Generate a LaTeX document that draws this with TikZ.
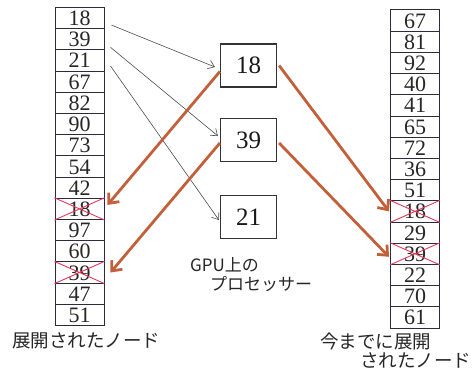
\documentclass[tikz,border=0pt]{standalone}
\usepackage{fontspec}
\setmainfont{Liberation Serif}
\newfontfamily\cjk{Noto Sans CJK JP}
\usetikzlibrary{arrows.meta}
\definecolor{cellc}{HTML}{2B2B3C}
\definecolor{orangec}{HTML}{C2603C}
\definecolor{crossc}{HTML}{E8385A}
\begin{document}
\begin{tikzpicture}[x=1pt,y=-1pt,
 cell/.style={draw=cellc,line width=1pt,minimum width=49pt,minimum height=21.2pt,inner sep=0pt,text height=15pt,text depth=0pt,font=\fontsize{22}{22}\selectfont,text=black!85},
 proc/.style={draw=black!80,line width=1.2pt,minimum width=56pt,minimum height=43pt,inner sep=0pt,text height=16pt,text depth=0pt,font=\fontsize{25}{25}\selectfont,text=black!90},
 thinarrow/.style={draw=black!70,line width=0.6pt,-{Straight Barb[length=6pt,width=9pt]}},
 hot/.style={draw=orangec,line width=2.8pt,-{Straight Barb[length=8pt,width=14pt]}},
 cross/.style={draw=crossc,line width=0.9pt},
 lbl/.style={font=\cjk\fontsize{18.5}{22}\selectfont,inner sep=0pt,anchor=west,text=black!85}]
\useasboundingbox (0,0) rectangle (474,369);
% left column
\foreach \v [count=\i] in {18,39,21,67,82,90,73,54,42,18,97,60,39,47,51}
  \node[cell] (L\i) at (79.5,{7.5+21.2*(\i-0.5)}) {\v};
% right column
\foreach \v [count=\i] in {67,81,92,40,41,65,72,36,51,18,29,39,22,70,61}
  \node[cell] (R\i) at (415,{10+21.2*(\i-0.5)}) {\v};
% crosses
\foreach \n in {L10,L13,R10,R12}
  \draw[cross] (\n.north west) -- (\n.south east) (\n.south west) -- (\n.north east);
% processors
\node[proc] (b18) at (248.5,65.5) {18};
\node[proc] (b39) at (248.5,140) {39};
\node[proc] (b21) at (248.5,217) {21};
% thin arrows
\draw[thinarrow] ([shift={(7,7)}]L1.east) -- ([shift={(-5,1.5)}]b18.west);
\draw[thinarrow] ([shift={(6,8)}]L2.east) -- ([shift={(-2,-4)}]b39.west);
\draw[thinarrow] ([shift={(6,5.5)}]L3.east) -- ([shift={(-1,3)}]b21.west);
% orange arrows
\draw[hot] ([shift={(0,6)}]b18.west) -- ([shift={(3,-4)}]L10.east);
\draw[hot] ([shift={(0,3)}]b39.west) -- ([shift={(6,0)}]L13.east);
\draw[hot] ([shift={(2,0)}]b18.east) -- ([shift={(-1,0)}]R10.west);
\draw[hot] ([shift={(2,3)}]b39.east) -- ([shift={(-1,3)}]R12.west);
% labels
\node[lbl] (t1) at (12,341) {展開されたノード};
\node[lbl] (t2) at (320,341) {今までに展開};
\node[lbl] (t3) at (360,361) {されたノード};
\node[lbl,font=\cjk\fontsize{17}{20}\selectfont] (t4) at (190,265) {GPU上の};
\node[lbl,font=\cjk\fontsize{17}{20}\selectfont] (t5) at (210,284) {プロセッサー};
\end{tikzpicture}
\end{document}
